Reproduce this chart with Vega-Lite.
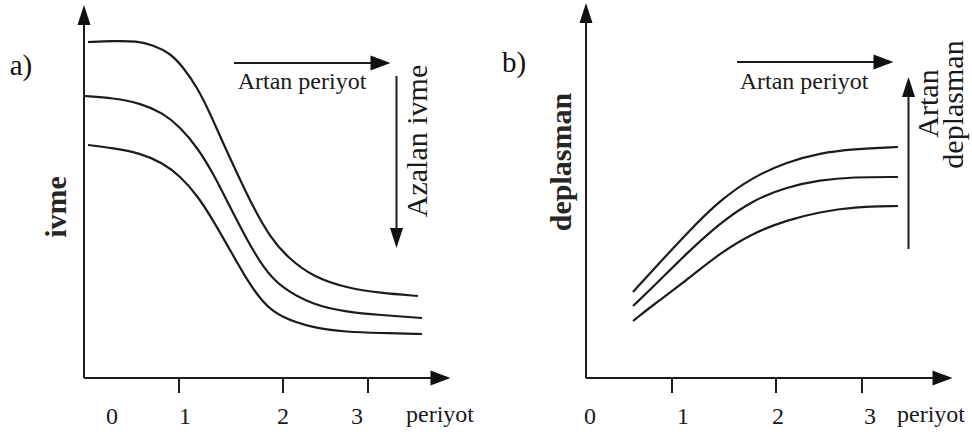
{
  "$schema": "https://vega.github.io/schema/vega-lite/v6.json",
  "padding": 0,
  "spacing": 0,
  "background": "white",
  "config": {"view": {"stroke": null}},
  "datasets": {
    "curves": [
      {"panel": "a", "series": "a1", "x": 8.8, "y": 39.7},
      {"panel": "a", "series": "a1", "x": 11.3, "y": 39.8},
      {"panel": "a", "series": "a1", "x": 13.7, "y": 39.8},
      {"panel": "a", "series": "a1", "x": 15.3, "y": 39.4},
      {"panel": "a", "series": "a1", "x": 17.0, "y": 38.6},
      {"panel": "a", "series": "a1", "x": 18.3, "y": 37.2},
      {"panel": "a", "series": "a1", "x": 19.7, "y": 35.2},
      {"panel": "a", "series": "a1", "x": 21.0, "y": 32.6},
      {"panel": "a", "series": "a1", "x": 22.3, "y": 29.6},
      {"panel": "a", "series": "a1", "x": 23.7, "y": 26.6},
      {"panel": "a", "series": "a1", "x": 25.3, "y": 23.2},
      {"panel": "a", "series": "a1", "x": 27.0, "y": 20.2},
      {"panel": "a", "series": "a1", "x": 28.7, "y": 18.2},
      {"panel": "a", "series": "a1", "x": 31.3, "y": 16.2},
      {"panel": "a", "series": "a1", "x": 34.7, "y": 15.1},
      {"panel": "a", "series": "a1", "x": 38.0, "y": 14.6},
      {"panel": "a", "series": "a1", "x": 41.8, "y": 14.3},
      {"panel": "a", "series": "a2", "x": 8.5, "y": 34.3},
      {"panel": "a", "series": "a2", "x": 11.3, "y": 34.1},
      {"panel": "a", "series": "a2", "x": 14.0, "y": 33.6},
      {"panel": "a", "series": "a2", "x": 16.3, "y": 32.6},
      {"panel": "a", "series": "a2", "x": 18.0, "y": 31.2},
      {"panel": "a", "series": "a2", "x": 19.7, "y": 29.2},
      {"panel": "a", "series": "a2", "x": 21.3, "y": 26.6},
      {"panel": "a", "series": "a2", "x": 23.0, "y": 23.2},
      {"panel": "a", "series": "a2", "x": 24.7, "y": 19.9},
      {"panel": "a", "series": "a2", "x": 26.3, "y": 17.2},
      {"panel": "a", "series": "a2", "x": 28.0, "y": 15.2},
      {"panel": "a", "series": "a2", "x": 31.3, "y": 13.4},
      {"panel": "a", "series": "a2", "x": 34.7, "y": 12.7},
      {"panel": "a", "series": "a2", "x": 38.0, "y": 12.4},
      {"panel": "a", "series": "a2", "x": 42.2, "y": 12.1},
      {"panel": "a", "series": "a3", "x": 8.8, "y": 29.4},
      {"panel": "a", "series": "a3", "x": 11.3, "y": 29.1},
      {"panel": "a", "series": "a3", "x": 14.0, "y": 28.6},
      {"panel": "a", "series": "a3", "x": 16.3, "y": 27.6},
      {"panel": "a", "series": "a3", "x": 18.0, "y": 26.3},
      {"panel": "a", "series": "a3", "x": 19.7, "y": 24.4},
      {"panel": "a", "series": "a3", "x": 21.3, "y": 21.9},
      {"panel": "a", "series": "a3", "x": 23.0, "y": 18.9},
      {"panel": "a", "series": "a3", "x": 24.7, "y": 15.9},
      {"panel": "a", "series": "a3", "x": 26.3, "y": 13.6},
      {"panel": "a", "series": "a3", "x": 28.0, "y": 12.2},
      {"panel": "a", "series": "a3", "x": 31.3, "y": 11.1},
      {"panel": "a", "series": "a3", "x": 34.7, "y": 10.7},
      {"panel": "a", "series": "a3", "x": 38.0, "y": 10.6},
      {"panel": "a", "series": "a3", "x": 42.2, "y": 10.5},
      {"panel": "b", "series": "b1", "x": 14.7, "y": 14.7},
      {"panel": "b", "series": "b1", "x": 16.7, "y": 16.9},
      {"panel": "b", "series": "b1", "x": 20.1, "y": 20.6},
      {"panel": "b", "series": "b1", "x": 23.4, "y": 23.9},
      {"panel": "b", "series": "b1", "x": 26.7, "y": 26.2},
      {"panel": "b", "series": "b1", "x": 30.1, "y": 27.7},
      {"panel": "b", "series": "b1", "x": 33.4, "y": 28.6},
      {"panel": "b", "series": "b1", "x": 36.7, "y": 29.0},
      {"panel": "b", "series": "b1", "x": 41.2, "y": 29.2},
      {"panel": "b", "series": "b2", "x": 14.7, "y": 13.3},
      {"panel": "b", "series": "b2", "x": 16.7, "y": 15.2},
      {"panel": "b", "series": "b2", "x": 20.1, "y": 18.6},
      {"panel": "b", "series": "b2", "x": 23.4, "y": 21.6},
      {"panel": "b", "series": "b2", "x": 26.7, "y": 23.9},
      {"panel": "b", "series": "b2", "x": 30.1, "y": 25.2},
      {"panel": "b", "series": "b2", "x": 33.4, "y": 25.9},
      {"panel": "b", "series": "b2", "x": 36.7, "y": 26.2},
      {"panel": "b", "series": "b2", "x": 41.2, "y": 26.2},
      {"panel": "b", "series": "b3", "x": 14.7, "y": 11.8},
      {"panel": "b", "series": "b3", "x": 16.7, "y": 13.4},
      {"panel": "b", "series": "b3", "x": 20.1, "y": 15.9},
      {"panel": "b", "series": "b3", "x": 23.4, "y": 18.6},
      {"panel": "b", "series": "b3", "x": 26.7, "y": 20.6},
      {"panel": "b", "series": "b3", "x": 30.1, "y": 21.9},
      {"panel": "b", "series": "b3", "x": 33.4, "y": 22.7},
      {"panel": "b", "series": "b3", "x": 36.7, "y": 23.2},
      {"panel": "b", "series": "b3", "x": 41.2, "y": 23.3}
    ],
    "segments": [
      {"panel": "a", "part": "y axis", "x": 8.4, "y": 6.1, "x2": 8.4, "y2": 42.4},
      {"panel": "a", "part": "x axis", "x": 8.4, "y": 6.1, "x2": 44.0, "y2": 6.1},
      {"panel": "a", "part": "tick 1", "x": 17.9, "y": 6.1, "x2": 17.9, "y2": 4.6},
      {"panel": "a", "part": "tick 2", "x": 28.3, "y": 6.1, "x2": 28.3, "y2": 4.6},
      {"panel": "a", "part": "tick 3", "x": 36.8, "y": 6.1, "x2": 36.8, "y2": 4.6},
      {"panel": "a", "part": "Artan periyot", "x": 23.4, "y": 37.6, "x2": 38.0, "y2": 37.6},
      {"panel": "a", "part": "Azalan ivme", "x": 39.65, "y": 36.3, "x2": 39.65, "y2": 20.2},
      {"panel": "b", "part": "y axis", "x": 10.0, "y": 6.1, "x2": 10.0, "y2": 42.6},
      {"panel": "b", "part": "x axis", "x": 10.0, "y": 6.1, "x2": 45.6, "y2": 6.1},
      {"panel": "b", "part": "tick 1", "x": 18.6, "y": 6.1, "x2": 18.6, "y2": 4.6},
      {"panel": "b", "part": "tick 2", "x": 29.0, "y": 6.1, "x2": 29.0, "y2": 4.6},
      {"panel": "b", "part": "tick 3", "x": 37.6, "y": 6.1, "x2": 37.6, "y2": 4.6},
      {"panel": "b", "part": "Artan periyot", "x": 25.1, "y": 37.7, "x2": 39.7, "y2": 37.7},
      {"panel": "b", "part": "Artan deplasman", "x": 42.25, "y": 19.0, "x2": 42.25, "y2": 35.2}
    ],
    "arrows": [
      {"panel": "a", "dir": "up", "x": 8.4, "y": 42.4},
      {"panel": "a", "dir": "right", "x": 44.05, "y": 6.1},
      {"panel": "a", "dir": "right", "x": 38.05, "y": 37.6},
      {"panel": "a", "dir": "down", "x": 39.65, "y": 20.1},
      {"panel": "b", "dir": "up", "x": 10.0, "y": 42.6},
      {"panel": "b", "dir": "right", "x": 45.65, "y": 6.1},
      {"panel": "b", "dir": "right", "x": 39.75, "y": 37.7},
      {"panel": "b", "dir": "up", "x": 42.25, "y": 35.2}
    ],
    "labels": [
      {"panel": "a", "kind": "tick", "text": "0", "x": 11.2, "y": 1.5},
      {"panel": "a", "kind": "tick", "text": "1", "x": 18.5, "y": 1.5},
      {"panel": "a", "kind": "tick", "text": "2", "x": 28.3, "y": 1.5},
      {"panel": "a", "kind": "tick", "text": "3", "x": 35.7, "y": 1.5},
      {"panel": "a", "kind": "tick", "text": "periyot", "x": 44.0, "y": 1.7},
      {"panel": "a", "kind": "tick", "text": "Artan periyot", "x": 30.2, "y": 35.0},
      {"panel": "a", "kind": "panel", "text": "a)", "x": 2.1, "y": 37.3},
      {"panel": "a", "kind": "title", "text": "ivme", "x": 5.7, "y": 23.2},
      {"panel": "a", "kind": "vertical", "text": "Azalan ivme", "x": 41.8, "y": 29.8},
      {"panel": "b", "kind": "tick", "text": "0", "x": 10.4, "y": 1.5},
      {"panel": "b", "kind": "tick", "text": "1", "x": 19.7, "y": 1.5},
      {"panel": "b", "kind": "tick", "text": "2", "x": 29.2, "y": 1.5},
      {"panel": "b", "kind": "tick", "text": "3", "x": 38.4, "y": 1.5},
      {"panel": "b", "kind": "tick", "text": "periyot", "x": 44.5, "y": 1.7},
      {"panel": "b", "kind": "tick", "text": "Artan periyot", "x": 31.8, "y": 35.0},
      {"panel": "b", "kind": "panel", "text": "b)", "x": 2.8, "y": 37.6},
      {"panel": "b", "kind": "title", "text": "deplasman", "x": 7.6, "y": 27.7},
      {"panel": "b", "kind": "vertical", "text": "Artan", "x": 44.3, "y": 33.55},
      {"panel": "b", "kind": "vertical", "text": "deplasman", "x": 46.8, "y": 33.45}
    ]
  },
  "hconcat": [
    {
      "width": 486,
      "height": 439,
      "encoding": {
        "x": {"field": "x", "type": "quantitative", "scale": {"domain": [0, 48.6], "nice": false, "zero": false}, "axis": null},
        "y": {"field": "y", "type": "quantitative", "scale": {"domain": [0, 43.9], "nice": false, "zero": false}, "axis": null}
      },
      "layer": [
        {
          "data": {"name": "curves"},
          "transform": [{"filter": "datum.panel == 'a'"}],
          "mark": {"type": "line", "interpolate": "basis", "color": "#1c1c1c", "strokeWidth": 2.2},
          "encoding": {"detail": {"field": "series", "type": "nominal"}}
        },
        {
          "data": {"name": "segments"},
          "transform": [{"filter": "datum.panel == 'a'"}],
          "mark": {"type": "rule", "color": "#1c1c1c", "strokeWidth": 2},
          "encoding": {"x2": {"field": "x2"}, "y2": {"field": "y2"}}
        },
        {
          "data": {"name": "arrows"},
          "transform": [{"filter": "datum.panel == 'a'"}],
          "mark": {"type": "point", "filled": true, "color": "#111111", "opacity": 1, "strokeWidth": 0},
          "encoding": {
            "shape": {"field": "dir", "type": "nominal", "legend": null, "scale": {"domain": ["up", "down", "right"], "range": ["M0,-1L0.65,1L-0.65,1Z", "M0,1L0.65,-1L-0.65,-1Z", "M1,0L-1,-0.75L-1,0.75Z"]}},
            "size": {"field": "dir", "type": "nominal", "legend": null, "scale": {"domain": ["up", "down", "right"], "range": [400, 400, 676]}}
          }
        },
        {
          "data": {"name": "labels"},
          "transform": [{"filter": "datum.panel == 'a' && datum.kind == 'tick'"}],
          "mark": {"type": "text", "font": "Liberation Serif", "fontSize": 24, "color": "#1a1a1a", "align": "center", "baseline": "alphabetic"},
          "encoding": {"text": {"field": "text"}}
        },
        {
          "data": {"name": "labels"},
          "transform": [{"filter": "datum.panel == 'a' && datum.kind == 'panel'"}],
          "mark": {"type": "text", "font": "Liberation Serif", "fontSize": 29, "color": "#111111", "align": "center", "baseline": "middle"},
          "encoding": {"text": {"field": "text"}}
        },
        {
          "data": {"name": "labels"},
          "transform": [{"filter": "datum.panel == 'a' && datum.kind == 'vertical'"}],
          "mark": {"type": "text", "font": "Liberation Serif", "fontSize": 30, "angle": 270, "color": "#1a1a1a", "align": "center", "baseline": "middle"},
          "encoding": {"text": {"field": "text"}}
        },
        {
          "data": {"name": "labels"},
          "transform": [{"filter": "datum.panel == 'a' && datum.kind == 'title'"}],
          "mark": {"type": "text", "font": "Liberation Serif", "fontSize": 30, "fontWeight": "bold", "angle": 270, "color": "#262626", "align": "center", "baseline": "middle"},
          "encoding": {"text": {"field": "text"}}
        }
      ]
    },
    {
      "width": 486,
      "height": 439,
      "encoding": {
        "x": {"field": "x", "type": "quantitative", "scale": {"domain": [0, 48.6], "nice": false, "zero": false}, "axis": null},
        "y": {"field": "y", "type": "quantitative", "scale": {"domain": [0, 43.9], "nice": false, "zero": false}, "axis": null}
      },
      "layer": [
        {
          "data": {"name": "curves"},
          "transform": [{"filter": "datum.panel == 'b'"}],
          "mark": {"type": "line", "interpolate": "basis", "color": "#1c1c1c", "strokeWidth": 2.2},
          "encoding": {"detail": {"field": "series", "type": "nominal"}}
        },
        {
          "data": {"name": "segments"},
          "transform": [{"filter": "datum.panel == 'b'"}],
          "mark": {"type": "rule", "color": "#1c1c1c", "strokeWidth": 2},
          "encoding": {"x2": {"field": "x2"}, "y2": {"field": "y2"}}
        },
        {
          "data": {"name": "arrows"},
          "transform": [{"filter": "datum.panel == 'b'"}],
          "mark": {"type": "point", "filled": true, "color": "#111111", "opacity": 1, "strokeWidth": 0},
          "encoding": {
            "shape": {"field": "dir", "type": "nominal", "legend": null, "scale": {"domain": ["up", "down", "right"], "range": ["M0,-1L0.65,1L-0.65,1Z", "M0,1L0.65,-1L-0.65,-1Z", "M1,0L-1,-0.75L-1,0.75Z"]}},
            "size": {"field": "dir", "type": "nominal", "legend": null, "scale": {"domain": ["up", "down", "right"], "range": [400, 400, 676]}}
          }
        },
        {
          "data": {"name": "labels"},
          "transform": [{"filter": "datum.panel == 'b' && datum.kind == 'tick'"}],
          "mark": {"type": "text", "font": "Liberation Serif", "fontSize": 24, "color": "#1a1a1a", "align": "center", "baseline": "alphabetic"},
          "encoding": {"text": {"field": "text"}}
        },
        {
          "data": {"name": "labels"},
          "transform": [{"filter": "datum.panel == 'b' && datum.kind == 'panel'"}],
          "mark": {"type": "text", "font": "Liberation Serif", "fontSize": 29, "color": "#111111", "align": "center", "baseline": "middle"},
          "encoding": {"text": {"field": "text"}}
        },
        {
          "data": {"name": "labels"},
          "transform": [{"filter": "datum.panel == 'b' && datum.kind == 'vertical'"}],
          "mark": {"type": "text", "font": "Liberation Serif", "fontSize": 30, "angle": 270, "color": "#1a1a1a", "align": "center", "baseline": "middle"},
          "encoding": {"text": {"field": "text"}}
        },
        {
          "data": {"name": "labels"},
          "transform": [{"filter": "datum.panel == 'b' && datum.kind == 'title'"}],
          "mark": {"type": "text", "font": "Liberation Serif", "fontSize": 30, "fontWeight": "bold", "angle": 270, "color": "#262626", "align": "center", "baseline": "middle"},
          "encoding": {"text": {"field": "text"}}
        }
      ]
    }
  ]
}
